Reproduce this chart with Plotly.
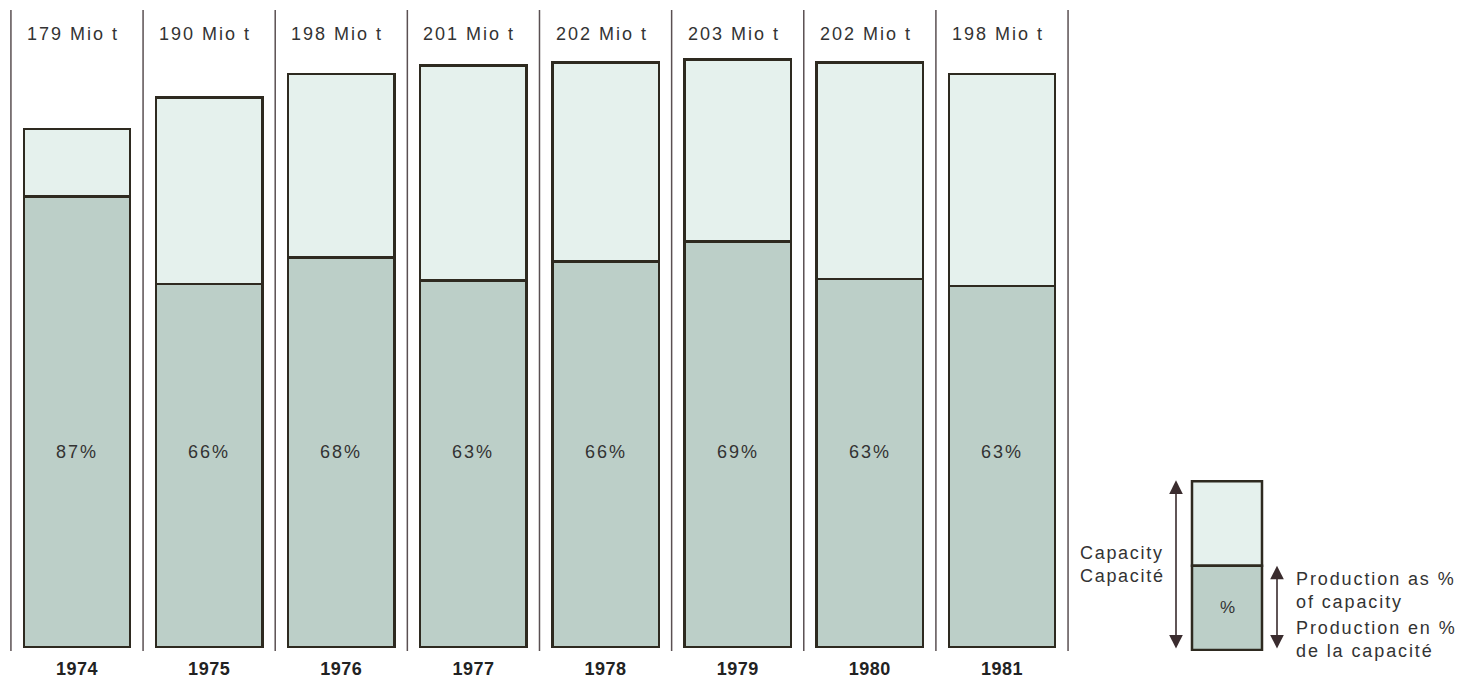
import plotly.graph_objects as go

# ---- data ----
years = ["1974", "1975", "1976", "1977", "1978", "1979", "1980", "1981"]
capacity = [179, 190, 198, 201, 202, 203, 202, 198]          # Mio t
production_pct = [87, 66, 68, 63, 66, 69, 63, 63]            # % of capacity

cap_labels = [f"{c} Mio t" for c in capacity]
pct_labels = [f"{p}%" for p in production_pct]

production = [c * p / 100 for c, p in zip(capacity, production_pct)]
spare = [c - p for c, p in zip(capacity, production)]

# ---- geometry (reference pixels; page body has an 8px margin) ----
OFF = 8
W, H = 1464, 671
Y0_REF = 652           # reference pixel row of value 0
PX_PER_T = 2.916       # pixels per Mio t
X0_REF = 77            # reference pixel column of first category
PX_PER_CAT = 132.14
PLOT_BOTTOM = 648      # figure pixel of plot-area bottom
BOTTOM_MARGIN = H - PLOT_BOTTOM

y0_fig = Y0_REF - OFF
x0_fig = X0_REF - OFF
y_range = [-(PLOT_BOTTOM - y0_fig) / PX_PER_T, y0_fig / PX_PER_T]
x_range = [-x0_fig / PX_PER_CAT, (W - x0_fig) / PX_PER_CAT]


def dx(px):
    return (px - X0_REF) / PX_PER_CAT


def dy(py):
    return (Y0_REF - py) / PX_PER_T


def spaced(t, ls):
    return f'<span style="letter-spacing:{ls}px">{t}</span>'


PROD_COL = "#bccfc8"
CAP_COL = "#e5f1ed"
EDGE = "#2e2a20"
SEP = "#5a5052"
TXT = "#333333"
FONT = "Liberation Sans, Arial, sans-serif"

xs = list(range(len(years)))

fig = go.Figure()
fig.add_trace(go.Bar(
    x=xs, y=production, width=0.805,
    marker=dict(color=PROD_COL, line=dict(color=EDGE, width=2.5)),
    hoverinfo="skip", showlegend=False,
))
fig.add_trace(go.Bar(
    x=xs, y=spare, width=0.805,
    marker=dict(color=CAP_COL, line=dict(color=EDGE, width=2.5)),
    hoverinfo="skip", showlegend=False,
))

shapes = []
for i in range(len(years) + 1):
    shapes.append(dict(type="line", xref="x", yref="y",
                       x0=i - 0.5, x1=i - 0.5, y0=dy(10), y1=dy(657),
                       line=dict(color=SEP, width=1.5)))

annotations = []
for i in xs:
    annotations.append(dict(x=i - 0.03, y=dy(34), xref="x", yref="y", text=spaced(cap_labels[i], 2),
                            showarrow=False, font=dict(family=FONT, size=18, color=TXT)))
    annotations.append(dict(x=i, y=dy(455), xref="x", yref="y", text=spaced(pct_labels[i], 2),
                            showarrow=False, font=dict(family=FONT, size=18, color=TXT)))

# ---- explanatory legend (bottom right) ----
lx0, lx1 = dx(1192), dx(1262)
shapes.append(dict(type="rect", xref="x", yref="y", x0=lx0, x1=lx1, y0=dy(570), y1=dy(485),
                   fillcolor=CAP_COL, line=dict(color=EDGE, width=2.5)))
shapes.append(dict(type="rect", xref="x", yref="y", x0=lx0, x1=lx1, y0=dy(655), y1=dy(570),
                   fillcolor=PROD_COL, line=dict(color=EDGE, width=2.5)))
annotations.append(dict(x=dx(1227), y=dy(612), xref="x", yref="y", text="%", showarrow=False,
                        font=dict(family=FONT, size=17, color=TXT)))

ARROW = "#3a2c2e"
for xp, ytop, ybot in [(1176, 484, 655), (1277, 570, 655)]:
    annotations.append(dict(x=dx(xp), y=dy(ytop), ax=dx(xp), ay=dy(ybot),
                            xref="x", yref="y", axref="x", ayref="y", text="",
                            showarrow=True, arrowhead=2, startarrowhead=2,
                            arrowside="end+start", arrowsize=1.7, startarrowsize=1.7,
                            arrowwidth=1.6, arrowcolor=ARROW, standoff=0, startstandoff=0))

LEG_FONT = dict(family=FONT, size=18, color=TXT)
annotations.append(dict(x=dx(1167), y=dy(569), xref="x", yref="y", xanchor="right",
                        align="left", text=spaced("Capacity<br>Capacité", 1.7),
                        showarrow=False, font=LEG_FONT))
annotations.append(dict(x=dx(1294), y=dy(595), xref="x", yref="y", xanchor="left",
                        align="left", text=spaced("Production as %<br>of capacity", 1.9),
                        showarrow=False, font=LEG_FONT))
annotations.append(dict(x=dx(1294), y=dy(644), xref="x", yref="y", xanchor="left",
                        align="left", text=spaced("Production en %<br>de la capacité", 1.9),
                        showarrow=False, font=LEG_FONT))

fig.update_layout(
    width=W, height=H,
    margin=dict(l=0, r=0, t=0, b=BOTTOM_MARGIN),
    barmode="stack",
    paper_bgcolor="white", plot_bgcolor="white",
    shapes=shapes, annotations=annotations,
    xaxis=dict(range=x_range, tickmode="array", tickvals=xs,
               ticktext=[f'<b>{spaced(y, 0.5)}</b>' for y in years],
               showgrid=False, zeroline=False, showline=False,
               ticks="outside", ticklen=1, tickcolor="rgba(0,0,0,0)",
               tickfont=dict(family=FONT, size=18, color="#222"),
               fixedrange=True),
    yaxis=dict(range=y_range, visible=False, fixedrange=True),
    font=dict(family=FONT),
)

fig.write_html("out.html")
